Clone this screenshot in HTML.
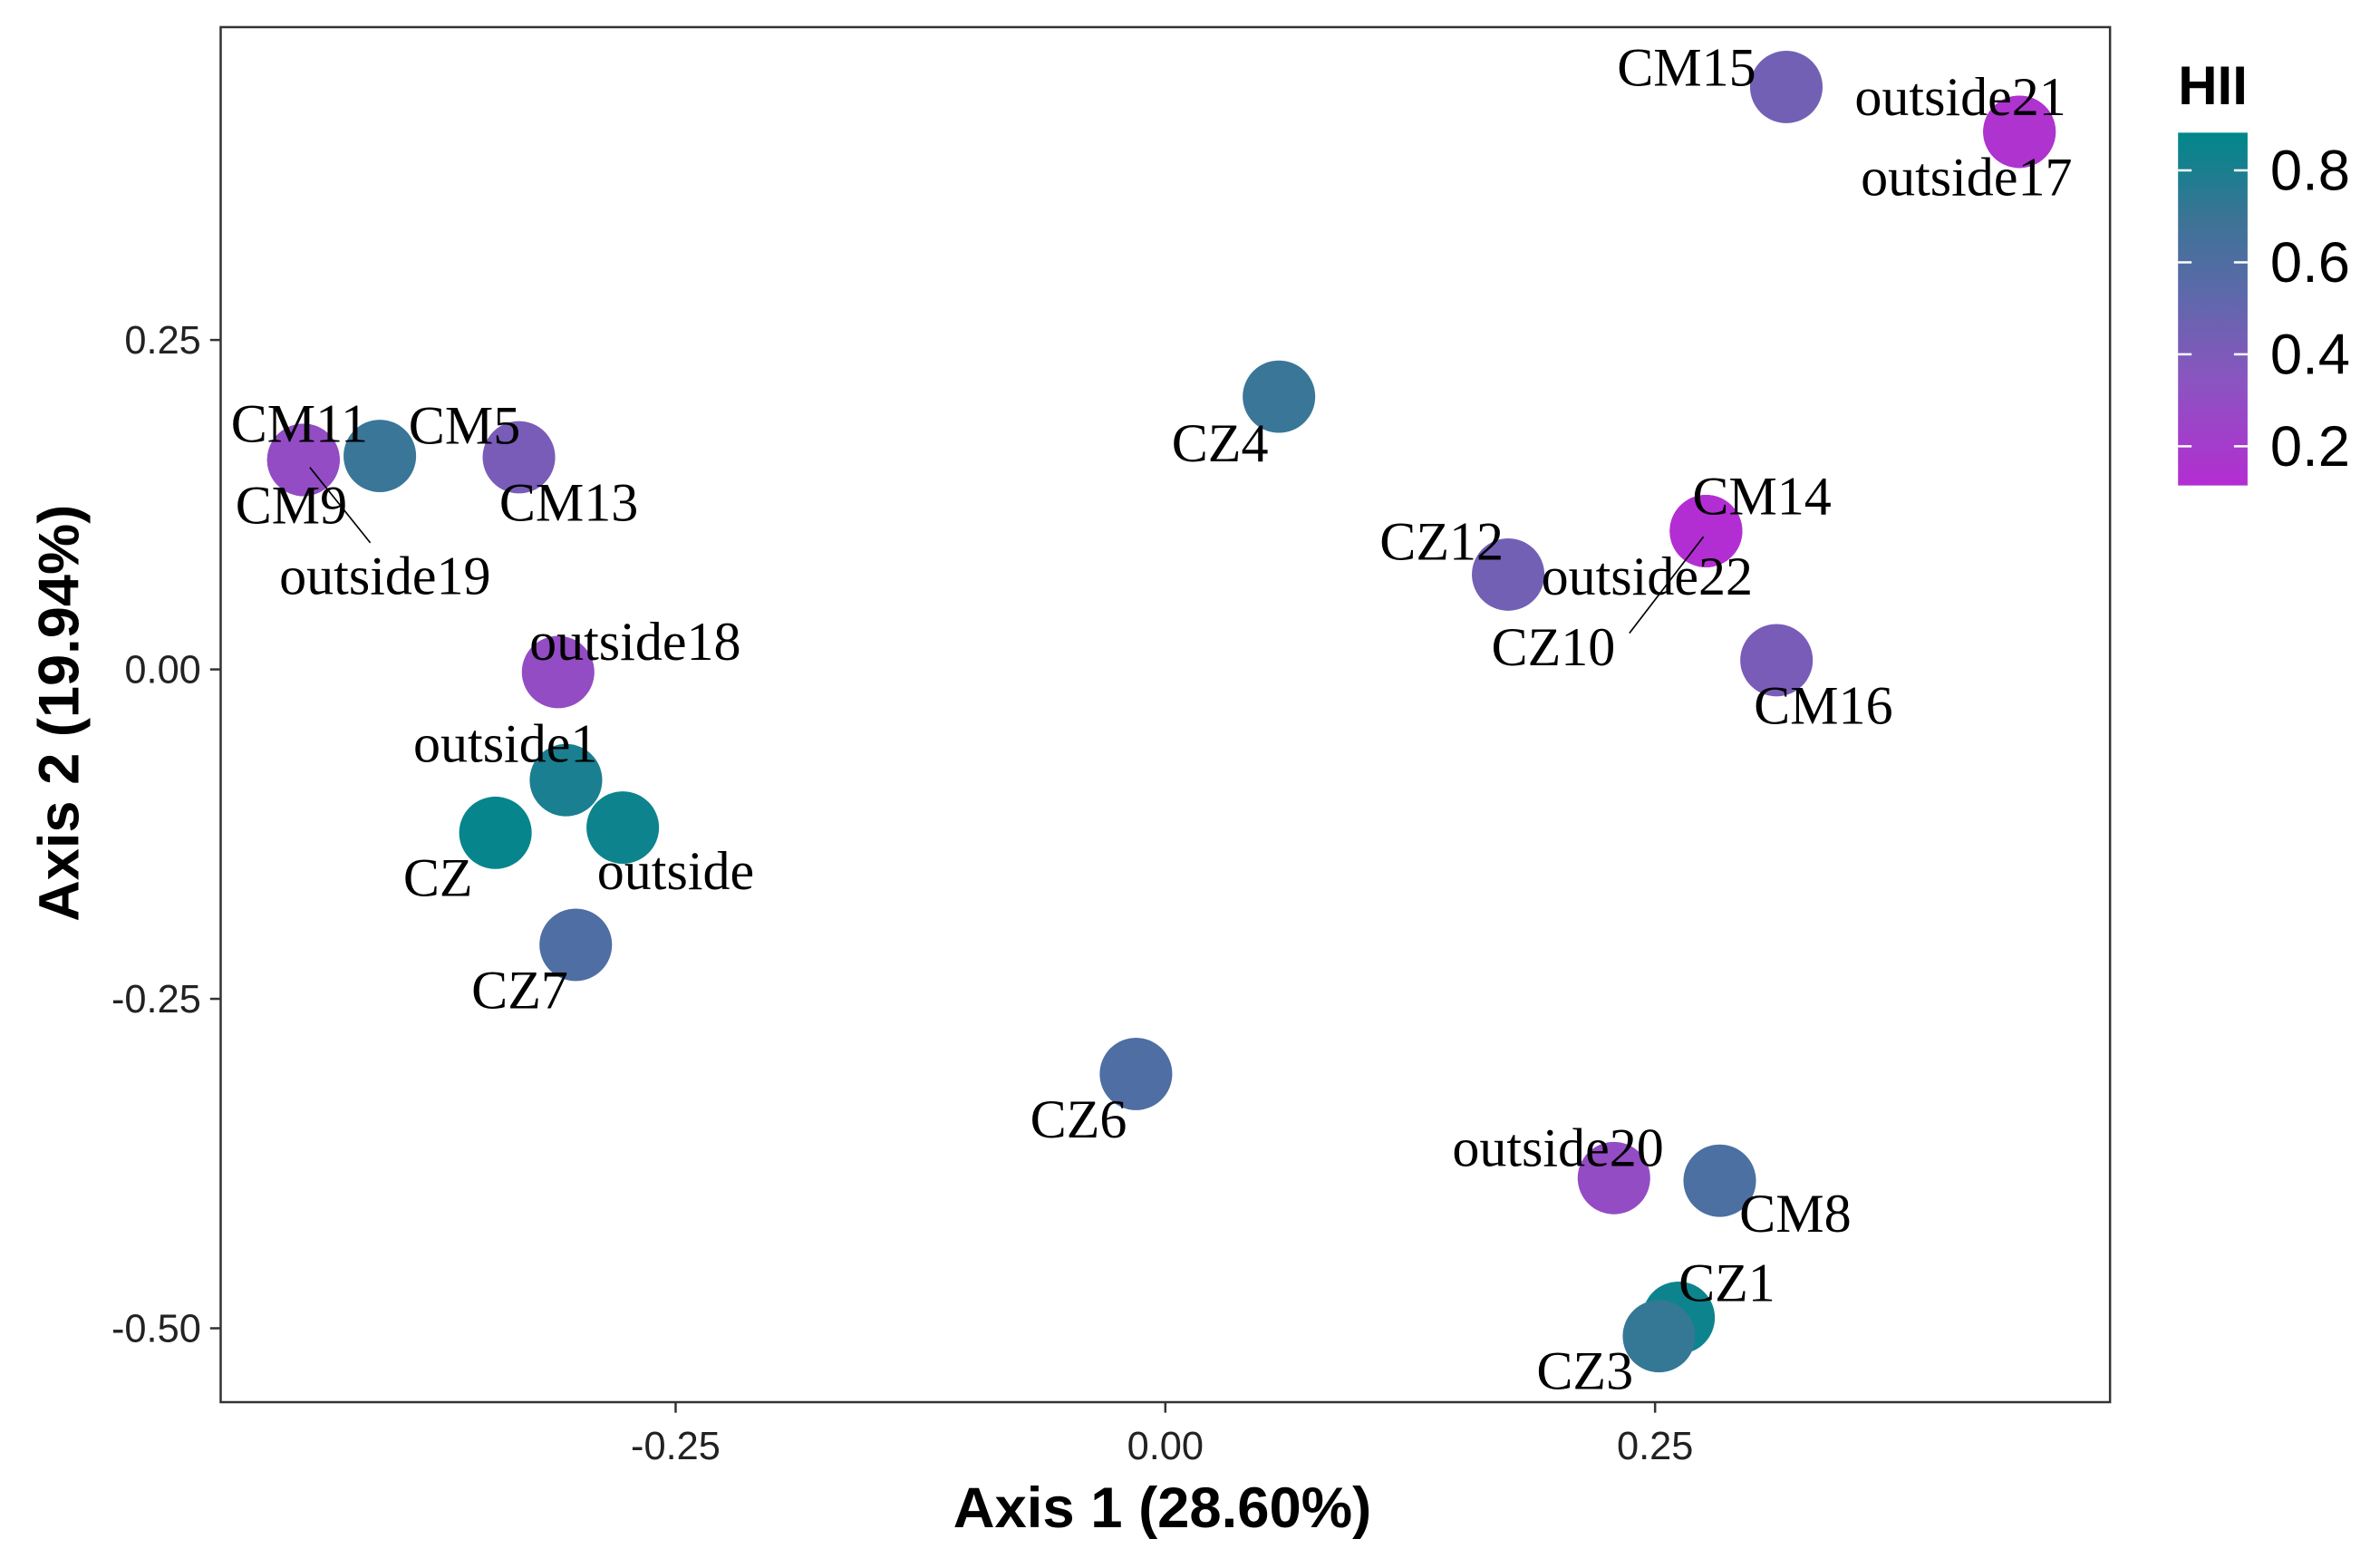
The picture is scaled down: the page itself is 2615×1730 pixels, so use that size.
<!DOCTYPE html>
<html><head><meta charset="utf-8"><style>
html,body{margin:0;padding:0;background:#fff;}
svg{display:block;}
.lbl{font-family:"Liberation Serif",serif;font-size:36px;fill:#000;}
.tick{font-family:"Liberation Sans",sans-serif;font-size:26px;fill:#222;}
.title{font-family:"Liberation Sans",sans-serif;font-size:38px;font-weight:bold;fill:#000;}
.ltitle{font-family:"Liberation Sans",sans-serif;font-size:36px;font-weight:bold;fill:#000;}
.ltick{font-family:"Liberation Sans",sans-serif;font-size:38px;fill:#000;}
</style></head><body>
<svg id="chart" width="2615" height="1730" viewBox="0 0 1568 1040" preserveAspectRatio="none" xmlns="http://www.w3.org/2000/svg">
<defs><linearGradient id="hiiGrad" x1="0" y1="1" x2="0" y2="0">
<stop offset="0" stop-color="#b42dd2"/><stop offset="0.3" stop-color="#8a55c0"/><stop offset="0.56" stop-color="#5a6aa8"/><stop offset="0.75" stop-color="#3d7396"/><stop offset="1" stop-color="#00878a"/>
</linearGradient></defs>
<rect x="146" y="18" width="1250" height="912" fill="#fff" stroke="#333" stroke-width="1.5"/>
<g id="axes"></g>
<g id="points"></g>
<g id="labels"></g>
<text class="title" x="769" y="1013" text-anchor="middle">Axis 1 (28.60%)</text>
<text class="title" transform="translate(52,473) rotate(-90)" text-anchor="middle">Axis 2 (19.94%)</text>
<text class="ltitle" x="1441" y="69">HII</text>
<rect x="1441" y="88" width="46" height="234" fill="url(#hiiGrad)"/>
<g id="legend"></g>
</svg>
<script>
const xTicks=[-0.25,0,0.25];
const xTickLabels=["-0.25","0.00","0.25"];
const yTicks=[0.25,0,-0.25,-0.5];
const yTickLabels=["0.25","0.00","-0.25","-0.50"];
const legendTicks=[0.8,0.6,0.4,0.2];
const legendTickLabels=["0.8","0.6","0.4","0.2"];
const names=["CM15","outside21","outside17","CZ4","CM11","CM9","outside19","CM5","CM13","CM14","outside22","CZ10","CZ12","CM16","outside18","outside1","CZ","outside","CZ7","CZ6","outside20","CM8","CZ1","CZ3"];
const axis1=[0.317,0.436,0.436,0.058,-0.44,-0.44,-0.44,-0.401,-0.330,0.276,0.276,0.276,0.175,0.312,-0.310,-0.306,-0.342,-0.277,-0.301,-0.015,0.229,0.283,0.262,0.252];
const axis2=[0.442,0.408,0.408,0.207,0.159,0.159,0.159,0.162,0.161,0.105,0.105,0.105,0.072,0.007,-0.002,-0.084,-0.124,-0.120,-0.209,-0.307,-0.386,-0.388,-0.492,-0.506];
const hii=[0.45,0.15,0.15,0.7,0.3,0.3,0.3,0.7,0.42,0.12,0.12,0.12,0.45,0.42,0.3,0.8,0.86,0.84,0.6,0.6,0.3,0.62,0.84,0.72];
const lblOff={CM15:[-112,-1],outside21:[-109,-11],outside17:[-105,42],CZ4:[-71,43],CM11:[-48,-12],CM9:[-45,42],outside19:[-16,89],CM5:[19,-8],CM13:[-13,42],CM14:[-9,-11],outside22:[-109,42],CZ10:[-142,89],CZ12:[-85,-10],CM16:[-15,42],outside18:[-19,-8],outside1:[-101,-12],CZ:[-61,42],outside:[-17,41],CZ7:[-69,42],CZ6:[-70,42],outside20:[-107,-8],CM8:[13,34],CZ1:[0,-11],CZ3:[-81,35]};
const leaders={outside19:[[205,310],[245,360]],CZ10:[[1078,420],[1127,356]]};
const X=v=>771+v*1296, Y=v=>444-v*874;
const LY=v=>113+(0.8-v)*305;
const stops=[[0.115,[180,45,210]],[0.35,[138,85,192]],[0.55,[90,106,168]],[0.7,[58,118,152]],[0.882,[0,135,138]]];
function col(h){if(h<=stops[0][0])return 'rgb('+stops[0][1]+')';for(let i=1;i<stops.length;i++){if(h<=stops[i][0]){const a=stops[i-1],b=stops[i],t=(h-a[0])/(b[0]-a[0]);return 'rgb('+a[1].map((c,k)=>Math.round(c+(b[1][k]-c)*t)).join(',')+')';}}return 'rgb('+stops[stops.length-1][1]+')';}
const NS="http://www.w3.org/2000/svg";
function mk(t,a,p){const e=document.createElementNS(NS,t);for(const k in a)e.setAttribute(k,a[k]);p.appendChild(e);return e;}
const ax=document.getElementById('axes');
xTicks.forEach((v,i)=>{const l=mk('line',{x1:X(v),x2:X(v),y1:930,y2:937,stroke:'#333','stroke-width':1.5},ax);


const t=mk('text',{x:X(v),y:968,'text-anchor':'middle',class:'tick'},ax);t.textContent=xTickLabels[i];

});
yTicks.forEach((v,i)=>{const l=mk('line',{x1:139,x2:146,y1:Y(v),y2:Y(v),stroke:'#333','stroke-width':1.5},ax);


const t=mk('text',{x:133,y:Y(v)+9,'text-anchor':'end',class:'tick'},ax);t.textContent=yTickLabels[i];

});
const pg=document.getElementById('points'),lg=document.getElementById('labels');
names.forEach((n,i)=>{const c=mk('circle',{cx:X(axis1[i]),cy:Y(axis2[i]),r:24,fill:col(hii[i])},pg);

});
names.forEach((n,i)=>{const o=lblOff[n]||[10,-10];
if(leaders[n]){const L=leaders[n];const ln=mk('line',{x1:L[0][0],y1:L[0][1],x2:L[1][0],y2:L[1][1],stroke:'#000','stroke-width':1},lg);

}
const t=mk('text',{x:X(axis1[i])+o[0],y:Y(axis2[i])+o[1],class:'lbl'},lg);t.textContent=n;

});
const leg=document.getElementById('legend');
legendTicks.forEach((v,i)=>{mk('line',{x1:1441,x2:1450,y1:LY(v),y2:LY(v),stroke:'#fff','stroke-width':1.5},leg);mk('line',{x1:1478,x2:1487,y1:LY(v),y2:LY(v),stroke:'#fff','stroke-width':1.5},leg);
const t=mk('text',{x:1502,y:LY(v)+13,class:'ltick'},leg);t.textContent=legendTickLabels[i];

});
</script>
</body></html>
